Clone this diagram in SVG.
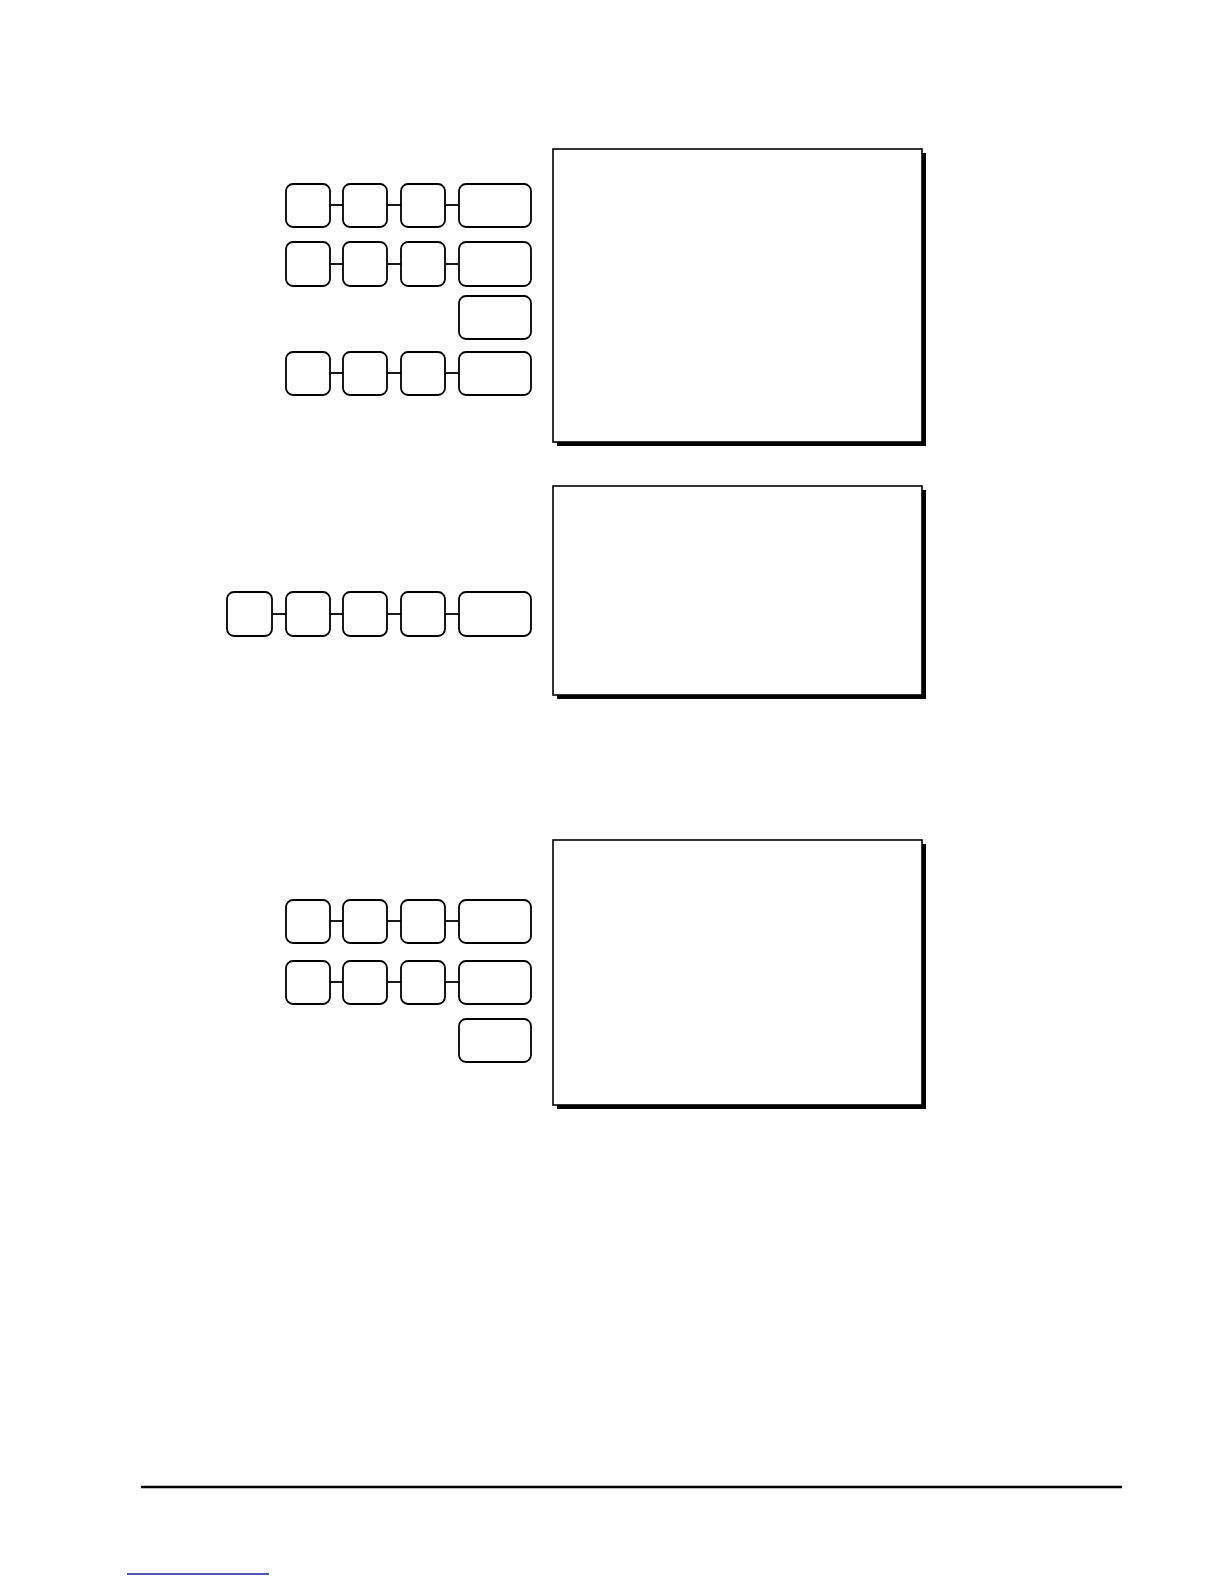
<svg xmlns="http://www.w3.org/2000/svg" width="1224" height="1584" viewBox="0 0 1224 1584">
<style>
.key{fill:#fff;stroke:#000;stroke-width:1.8}
.conn{stroke:#000;stroke-width:1.8}
.shadow{fill:#000}
.box{fill:#fff;stroke:#000;stroke-width:1.6}
</style>
<rect width="1224" height="1584" fill="#fff"/>
<g id="display1"><rect class="shadow" x="557" y="153" width="369" height="293"/><rect class="box" x="553" y="149" width="369" height="293"/></g>
<g id="display2"><rect class="shadow" x="557" y="490" width="369" height="209"/><rect class="box" x="553" y="486" width="369" height="209"/></g>
<g id="display3"><rect class="shadow" x="557" y="844" width="369" height="265"/><rect class="box" x="553" y="840" width="369" height="265"/></g>
<g id="connectors">
<line class="conn" x1="330" y1="205" x2="343" y2="205"/><line class="conn" x1="387" y1="205" x2="401" y2="205"/><line class="conn" x1="445" y1="205" x2="459" y2="205"/>
<line class="conn" x1="330" y1="264" x2="343" y2="264"/><line class="conn" x1="387" y1="264" x2="401" y2="264"/><line class="conn" x1="445" y1="264" x2="459" y2="264"/>
<line class="conn" x1="330" y1="373" x2="343" y2="373"/><line class="conn" x1="387" y1="373" x2="401" y2="373"/><line class="conn" x1="445" y1="373" x2="459" y2="373"/>
<line class="conn" x1="272" y1="614" x2="286" y2="614"/><line class="conn" x1="330" y1="614" x2="343" y2="614"/><line class="conn" x1="387" y1="614" x2="401" y2="614"/><line class="conn" x1="445" y1="614" x2="459" y2="614"/>
<line class="conn" x1="330" y1="921" x2="343" y2="921"/><line class="conn" x1="387" y1="921" x2="401" y2="921"/><line class="conn" x1="445" y1="921" x2="459" y2="921"/>
<line class="conn" x1="330" y1="982" x2="343" y2="982"/><line class="conn" x1="387" y1="982" x2="401" y2="982"/><line class="conn" x1="445" y1="982" x2="459" y2="982"/>
</g>
<g id="row1"><rect class="key" x="286" y="184" width="44" height="43" rx="7"/><rect class="key" x="343" y="184" width="44" height="43" rx="7"/><rect class="key" x="401" y="184" width="44" height="43" rx="7"/><rect class="key" x="459" y="184" width="72" height="43" rx="7"/></g>
<g id="row2"><rect class="key" x="286" y="242" width="44" height="44" rx="7"/><rect class="key" x="343" y="242" width="44" height="44" rx="7"/><rect class="key" x="401" y="242" width="44" height="44" rx="7"/><rect class="key" x="459" y="242" width="72" height="44" rx="7"/></g>
<g id="row3"><rect class="key" x="459" y="296" width="72" height="43" rx="7"/></g>
<g id="row4"><rect class="key" x="286" y="352" width="44" height="43" rx="7"/><rect class="key" x="343" y="352" width="44" height="43" rx="7"/><rect class="key" x="401" y="352" width="44" height="43" rx="7"/><rect class="key" x="459" y="352" width="72" height="43" rx="7"/></g>
<g id="row5"><rect class="key" x="227" y="592" width="45" height="44" rx="7"/><rect class="key" x="286" y="592" width="44" height="44" rx="7"/><rect class="key" x="343" y="592" width="44" height="44" rx="7"/><rect class="key" x="401" y="592" width="44" height="44" rx="7"/><rect class="key" x="459" y="592" width="72" height="44" rx="7"/></g>
<g id="row6"><rect class="key" x="286" y="900" width="44" height="43" rx="7"/><rect class="key" x="343" y="900" width="44" height="43" rx="7"/><rect class="key" x="401" y="900" width="44" height="43" rx="7"/><rect class="key" x="459" y="900" width="72" height="43" rx="7"/></g>
<g id="row7"><rect class="key" x="286" y="961" width="44" height="43" rx="7"/><rect class="key" x="343" y="961" width="44" height="43" rx="7"/><rect class="key" x="401" y="961" width="44" height="43" rx="7"/><rect class="key" x="459" y="961" width="72" height="43" rx="7"/></g>
<g id="row8"><rect class="key" x="459" y="1019" width="72" height="43" rx="7"/></g>
<line x1="141" y1="1487" x2="1122" y2="1487" stroke="#000" stroke-width="2.5"/>
<line x1="127" y1="1574" x2="269" y2="1574" stroke="#1a1aa0" stroke-width="1.4"/>
</svg>
